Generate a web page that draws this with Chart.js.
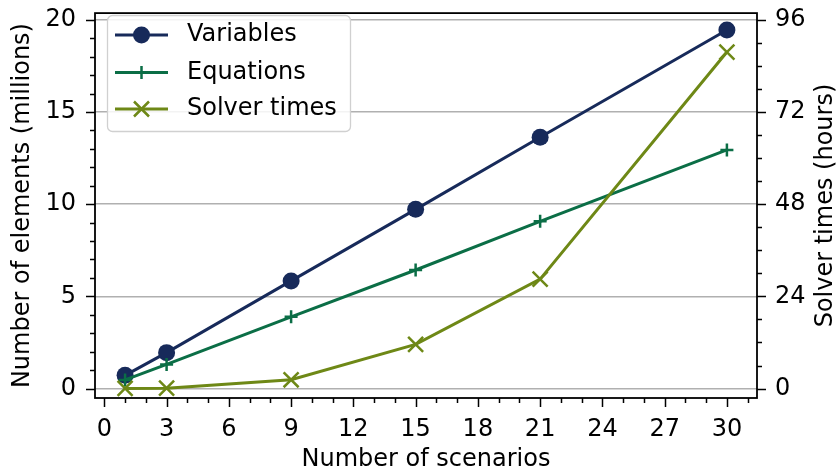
<!DOCTYPE html>
<html>
<head>
<meta charset="utf-8">
<script src="https://cdn.jsdelivr.net/npm/chart.js@4/dist/chart.umd.min.js"></script>
<style>
  html, body { margin: 0; padding: 0; background: #ffffff; }
  #wrap { width: 838px; height: 474px; }
</style>
</head>
<body>
<div id="wrap"><canvas id="c" width="838" height="474"></canvas></div>
<script>
// Problem size and solve time versus number of scenarios
const scenarios   = [1, 3, 9, 15, 21, 30];
const variables   = [0.72, 1.95, 5.84, 9.72, 13.63, 19.44];   // millions
const equations   = [0.47, 1.31, 3.89, 6.43, 9.07, 12.94];    // millions
const solverHours = [0.05, 0.1, 2.3, 11.5, 28.5, 87.6];       // hours

const seriesNames = ['Variables', 'Equations', 'Solver times'];
const xTicks      = [0, 3, 6, 9, 12, 15, 18, 21, 24, 27, 30];
const leftTicks   = [0, 5, 10, 15, 20];
const rightTicks  = [0, 24, 48, 72, 96];

const FONT = '"DejaVu Sans", "Liberation Sans", sans-serif';
const FONT_SIZE = 24;
const NAVY = '#172a5a';
const GREEN = '#0b6e46';
const OLIVE = '#6e8816';

// axis limits (right axis is the left one scaled so 20 M <-> 96 h)
const X_MIN = -0.45, X_MAX = 31.45;
const L_MIN = -0.51, L_MAX = 20.36;
const HOURS_PER_MILLION = 4.8;

const pts = (xs, ys) => xs.map((x, i) => ({ x, y: ys[i] }));

function drawMarker(ctx, kind, x, y, color) {
  ctx.save();
  ctx.strokeStyle = color;
  ctx.fillStyle = color;
  if (kind === 'circle') {
    ctx.beginPath();
    ctx.arc(x, y, 8.5, 0, Math.PI * 2);
    ctx.fill();
  } else if (kind === 'plus') {
    ctx.lineWidth = 2.5;
    ctx.beginPath();
    ctx.moveTo(x - 6.5, y); ctx.lineTo(x + 6.5, y);
    ctx.moveTo(x, y - 6.5); ctx.lineTo(x, y + 6.5);
    ctx.stroke();
  } else {
    const h = 7.5;
    ctx.lineWidth = 2.5;
    ctx.beginPath();
    ctx.moveTo(x - h, y - h); ctx.lineTo(x + h, y + h);
    ctx.moveTo(x - h, y + h); ctx.lineTo(x + h, y - h);
    ctx.stroke();
  }
  ctx.restore();
}

// frame, major/minor tick marks, right-hand title and legend
const decorations = {
  id: 'decorations',
  afterDatasetsDraw(chart) {
    const { ctx, chartArea: a, scales } = chart;
    const sx = scales.x, sl = scales.y, sr = scales.y2;
    ctx.save();
    ctx.strokeStyle = '#000';
    ctx.lineWidth = 1.5;
    ctx.beginPath();
    for (let v = Math.ceil(X_MIN); v <= X_MAX; v++) {
      const px = Math.round(sx.getPixelForValue(v)) + 0.5;
      const len = v % 3 === 0 ? 9 : 5;
      ctx.moveTo(px, a.bottom); ctx.lineTo(px, a.bottom + len);
    }
    for (let v = Math.ceil(L_MIN); v <= L_MAX; v++) {
      const py = Math.round(sl.getPixelForValue(v)) + 0.5;
      const len = v % 5 === 0 ? 9 : 5;
      ctx.moveTo(a.left, py); ctx.lineTo(a.left - len, py);
    }
    for (let v = 0; v <= L_MAX * HOURS_PER_MILLION; v += 6) {
      const py = Math.round(sr.getPixelForValue(v)) + 0.5;
      const len = v % 24 === 0 ? 9 : 5;
      ctx.moveTo(a.right, py); ctx.lineTo(a.right + len, py);
    }
    ctx.stroke();

    ctx.lineWidth = 1.8;
    ctx.strokeRect(a.left, a.top, a.right - a.left, a.bottom - a.top);

    // right axis title, reading bottom to top
    ctx.save();
    ctx.translate(826, (a.top + a.bottom) / 2);
    ctx.rotate(-Math.PI / 2);
    ctx.font = FONT_SIZE + 'px ' + FONT;
    ctx.fillStyle = '#000';
    ctx.textAlign = 'center';
    ctx.textBaseline = 'middle';
    ctx.fillText('Solver times (hours)', 0, 0);
    ctx.restore();

    // legend
    const bx = 107.5, by = 15.5, bw = 243, bh = 116, r = 5;
    ctx.beginPath();
    ctx.moveTo(bx + r, by);
    ctx.arcTo(bx + bw, by, bx + bw, by + bh, r);
    ctx.arcTo(bx + bw, by + bh, bx, by + bh, r);
    ctx.arcTo(bx, by + bh, bx, by, r);
    ctx.arcTo(bx, by, bx + bw, by, r);
    ctx.closePath();
    ctx.fillStyle = 'rgba(255,255,255,0.85)';
    ctx.fill();
    ctx.strokeStyle = '#d0d0d0';
    ctx.lineWidth = 1.3;
    ctx.stroke();

    const kinds = ['circle', 'plus', 'x'];
    const rows = [35, 72.5, 109];
    chart.data.datasets.forEach((ds, i) => {
      const y = rows[i];
      ctx.strokeStyle = ds.borderColor;
      ctx.lineWidth = 3;
      ctx.beginPath();
      ctx.moveTo(115, y); ctx.lineTo(168, y);
      ctx.stroke();
      drawMarker(ctx, kinds[i], 141.5, y, ds.borderColor);
      ctx.fillStyle = '#000';
      ctx.font = FONT_SIZE + 'px ' + FONT;
      ctx.textAlign = 'left';
      ctx.textBaseline = 'middle';
      ctx.fillText(ds.label, 187, y);
    });
    ctx.restore();
  }
};

const tickFont = { family: FONT, size: FONT_SIZE };

new Chart(document.getElementById('c'), {
  type: 'line',
  data: {
    datasets: [
      {
        label: seriesNames[0], data: pts(scenarios, variables), yAxisID: 'y',
        borderColor: NAVY, backgroundColor: NAVY, borderWidth: 3,
        pointStyle: 'circle', pointRadius: 8.5, pointBorderWidth: 0,
        pointBackgroundColor: NAVY, order: 2
      },
      {
        label: seriesNames[1], data: pts(scenarios, equations), yAxisID: 'y',
        borderColor: GREEN, backgroundColor: GREEN, borderWidth: 3,
        pointStyle: 'cross', pointRadius: 6.5, pointBorderWidth: 2.5,
        pointBorderColor: GREEN, order: 1
      },
      {
        label: seriesNames[2], data: pts(scenarios, solverHours), yAxisID: 'y2',
        borderColor: OLIVE, backgroundColor: OLIVE, borderWidth: 3,
        pointStyle: 'crossRot', pointRadius: 10.6, pointBorderWidth: 2.5,
        pointBorderColor: OLIVE, order: 0
      }
    ]
  },
  options: {
    responsive: false,
    animation: false,
    devicePixelRatio: 1,
    layout: { padding: { top: 3, left: 0, right: 0, bottom: 0 } },
    plugins: { legend: { display: false }, tooltip: { enabled: false } },
    elements: { line: { tension: 0 } },
    scales: {
      x: {
        type: 'linear', min: X_MIN, max: X_MAX,
        afterBuildTicks: s => { s.ticks = xTicks.map(v => ({ value: v })); },
        afterFit: s => { s.height = 76; s.paddingLeft = 0; s.paddingRight = 0; },
        ticks: { font: tickFont, color: '#000', padding: 8, maxRotation: 0, autoSkip: false },
        grid: { drawOnChartArea: false, color: 'transparent', tickColor: 'transparent', tickLength: 9 },
        border: { display: false },
        title: { display: true, text: 'Number of scenarios', font: tickFont, color: '#000', padding: { top: 1, bottom: 0 } }
      },
      y: {
        type: 'linear', position: 'left', min: L_MIN, max: L_MAX,
        afterBuildTicks: s => { s.ticks = leftTicks.map(v => ({ value: v })); },
        afterFit: s => { s.width = 95; s.paddingTop = 0; s.paddingBottom = 0; },
        ticks: { font: tickFont, color: '#000', padding: 10 },
        grid: { color: '#b0b0b0', lineWidth: 1.4, tickColor: 'transparent', tickLength: 9 },
        border: { display: false },
        title: { display: true, text: 'Number of elements (millions)', font: tickFont, color: '#000', padding: { top: 8.5, bottom: 0 } }
      },
      y2: {
        type: 'linear', position: 'right',
        min: L_MIN * HOURS_PER_MILLION, max: L_MAX * HOURS_PER_MILLION,
        afterBuildTicks: s => { s.ticks = rightTicks.map(v => ({ value: v })); },
        afterFit: s => { s.width = 81; s.paddingTop = 0; s.paddingBottom = 0; },
        ticks: { font: tickFont, color: '#000', padding: 9 },
        grid: { drawOnChartArea: false, color: 'transparent', tickColor: 'transparent', tickLength: 9 },
        border: { display: false }
      }
    }
  },
  plugins: [decorations]
});
</script>
</body>
</html>
